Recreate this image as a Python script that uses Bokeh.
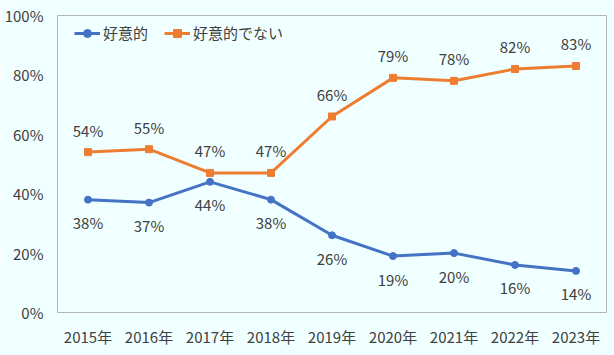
from bokeh.plotting import figure
from bokeh.models import FactorRange, Range1d, FixedTicker, Legend, LegendItem
from bokeh.core.properties import value
from bokeh.embed import file_html
from bokeh.resources import INLINE

years = ["2015年", "2016年", "2017年", "2018年", "2019年", "2020年", "2021年", "2022年", "2023年"]
favorable = [38, 37, 44, 38, 26, 19, 20, 16, 14]
unfavorable = [54, 55, 47, 47, 66, 79, 78, 82, 83]
y_ticks = [0, 20, 40, 60, 80, 100]
y_tick_labels = ["0%", "20%", "40%", "60%", "80%", "100%"]
name_fav = "好意的"
name_unfav = "好意的でない"

FONT = "Noto Sans CJK JP"
TXT = "#404040"
BLUE = "#4472C4"
ORANGE = "#ED7D31"
BG = "#F0FFFF"
FS = "15px"

p = figure(width=614, height=355, x_range=FactorRange(factors=years, range_padding=0),
           y_range=Range1d(0, 100), output_backend="svg", toolbar_location=None,
           min_border_left=57, min_border_right=8, min_border_top=15, min_border_bottom=43)
p.background_fill_color = BG
p.border_fill_color = BG
p.outline_line_color = "#b4b4b4"
p.outline_line_width = 1
p.xgrid.visible = False
p.ygrid.visible = False

p.yaxis.ticker = FixedTicker(ticks=y_ticks)
p.yaxis.major_label_overrides = {t: l for t, l in zip(y_ticks, y_tick_labels)}
for ax in (p.xaxis[0], p.yaxis[0]):
    ax.axis_line_color = None
    ax.major_tick_line_color = None
    ax.minor_tick_line_color = None
    ax.major_tick_out = 0
    ax.major_tick_in = 0
    ax.minor_tick_out = 0
    ax.minor_tick_in = 0
    ax.major_label_text_font = FONT
    ax.major_label_text_font_size = FS
    ax.major_label_text_color = TXT
p.yaxis.major_label_standoff = 14
p.xaxis.major_label_standoff = 13

l1 = p.line(years, favorable, line_color=BLUE, line_width=3)
s1 = p.scatter(years, favorable, marker="circle", size=7, fill_color=BLUE, line_color=BLUE)
l2 = p.line(years, unfavorable, line_color=ORANGE, line_width=3)
s2 = p.scatter(years, unfavorable, marker="square", size=7, fill_color=ORANGE, line_color=ORANGE)

p.text(years, favorable, text=[f"{v}%" for v in favorable], y_offset=23,
       text_align="center", text_baseline="middle", text_font=value(FONT),
       text_font_size=FS, text_color=TXT)
p.text(years, unfavorable, text=[f"{v}%" for v in unfavorable], y_offset=-22,
       text_align="center", text_baseline="middle", text_font=value(FONT),
       text_font_size=FS, text_color=TXT)

legend = Legend(items=[LegendItem(label=name_fav, renderers=[l1, s1]),
                       LegendItem(label=name_unfav, renderers=[l2, s2])],
                location=(17, 269), orientation="horizontal")
legend.background_fill_alpha = 0
legend.border_line_color = None
legend.label_text_font = FONT
legend.label_text_font_size = FS
legend.label_text_color = TXT
legend.glyph_width = 26
legend.label_standoff = 3
legend.spacing = 16
legend.padding = 4
legend.margin = 0
p.add_layout(legend, "center")

open("out.html", "w").write(file_html(p, INLINE))
